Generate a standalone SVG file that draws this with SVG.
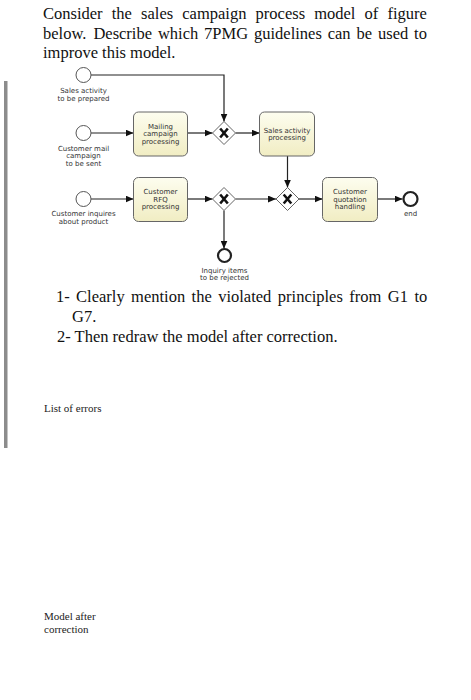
<svg xmlns="http://www.w3.org/2000/svg" width="471" height="700" viewBox="0 0 471 700">
<defs>
<linearGradient id="taskFill" x1="0" y1="0" x2="0" y2="1">
<stop offset="0" stop-color="#fdfdef"/>
<stop offset="1" stop-color="#f1edc3"/>
</linearGradient>
<marker id="arr" markerUnits="userSpaceOnUse" markerWidth="8" markerHeight="7" refX="8" refY="3.5" orient="auto">
<path d="M0,0 L8,3.5 L0,7 Z" fill="#111"/>
</marker>
<g id="xmark"><path d="M-3.8,-4.5 L3.8,4.5 M3.8,-4.5 L-3.8,4.5" stroke="#111" stroke-width="2.6" fill="none"/></g>
</defs>
<style>
.doc{font-family:"Liberation Serif","Times New Roman",serif;font-size:16.5px;fill:#111}
.small{font-family:"Liberation Serif","Times New Roman",serif;font-size:11px;fill:#222}
.lbl{font-family:"DejaVu Sans",Verdana,sans-serif;font-size:7px;fill:#333;text-anchor:middle}
.task rect{fill:url(#taskFill);stroke:#666;stroke-width:1}
.start circle{fill:#fff;stroke:#555;stroke-width:1}
.end circle{fill:#fff;stroke:#222;stroke-width:2.2}
.gw path.d{fill:#fff;stroke:#666;stroke-width:1}
.flow path{fill:none;stroke:#222;stroke-width:1.2;marker-end:url(#arr)}
</style>
<rect width="471" height="700" fill="#fff"/>
<rect x="4" y="81" width="3.5" height="367" fill="#8c8c8c"/>

<text class="doc" y="19"><tspan x="43">Consider</tspan><tspan x="111.7">the</tspan><tspan x="141.1">sales</tspan><tspan x="182.3">campaign</tspan><tspan x="255.6">process</tspan><tspan x="314.2">model</tspan><tspan x="364.6">of</tspan><tspan x="387.5">figure</tspan></text>
<text class="doc" y="38.5"><tspan x="43">below.</tspan><tspan x="93.4">Describe</tspan><tspan x="157.9">which</tspan><tspan x="204.1">7PMG</tspan><tspan x="254">guidelines</tspan><tspan x="327.7">can</tspan><tspan x="356.5">be</tspan><tspan x="378">used</tspan><tspan x="414.1">to</tspan></text>
<text class="doc" x="43" y="58">improve this model.</text>

<g id="connectors" class="flow">
<path d="M91,75 H224 V121.5"/>
<path d="M91,133 H133.5"/>
<path d="M187.5,133 H212.5"/>
<path d="M235.5,133 H259.5"/>
<path d="M287.5,156 V187.5"/>
<path d="M91,199 H133.5"/>
<path d="M187.5,199 H212.5"/>
<path d="M235.5,199 H276"/>
<path d="M299,199 H322.5"/>
<path d="M377.5,199 H402.5"/>
<path d="M224,210.5 V248.5"/>
</g>

<g id="start-sales" class="start"><circle cx="83.5" cy="75" r="7.5"/><text class="lbl" x="83.5" y="93">Sales activity</text><text class="lbl" x="83.5" y="100.5">to be prepared</text></g>
<g id="start-mail" class="start"><circle cx="83.5" cy="133" r="7.5"/><text class="lbl" x="83.5" y="150.5">Customer mail</text><text class="lbl" x="83.5" y="158">campaign</text><text class="lbl" x="83.5" y="165.5">to be sent</text></g>
<g id="start-inquiry" class="start"><circle cx="83.5" cy="199" r="7.5"/><text class="lbl" x="83.5" y="215.5">Customer inquires</text><text class="lbl" x="83.5" y="223.5">about product</text></g>

<g id="task-mailing" class="task"><rect x="133.5" y="112" width="54" height="44" rx="5"/><text class="lbl" x="160.5" y="128.5">Mailing</text><text class="lbl" x="160.5" y="136">campaign</text><text class="lbl" x="160.5" y="143.5">processing</text></g>
<g id="task-sales" class="task"><rect x="259.5" y="112" width="55" height="44" rx="5"/><text class="lbl" x="287" y="132.5">Sales activity</text><text class="lbl" x="287" y="140">processing</text></g>
<g id="task-rfq" class="task"><rect x="133.5" y="177.5" width="54" height="44" rx="5"/><text class="lbl" x="160.5" y="194">Customer</text><text class="lbl" x="160.5" y="201.5">RFQ</text><text class="lbl" x="160.5" y="208.5">processing</text></g>
<g id="task-quotation" class="task"><rect x="322.5" y="177.5" width="55" height="44" rx="5"/><text class="lbl" x="350" y="194">Customer</text><text class="lbl" x="350" y="201.5">quotation</text><text class="lbl" x="350" y="208.5">handling</text></g>

<g id="gw1" class="gw" transform="translate(224,133)"><path class="d" d="M0,-11.5 L11.5,0 L0,11.5 L-11.5,0 Z"/><use href="#xmark"/></g>
<g id="gw2" class="gw" transform="translate(224,199)"><path class="d" d="M0,-11.5 L11.5,0 L0,11.5 L-11.5,0 Z"/><use href="#xmark"/></g>
<g id="gw3" class="gw" transform="translate(287.5,199)"><path class="d" d="M0,-11.5 L11.5,0 L0,11.5 L-11.5,0 Z"/><use href="#xmark"/></g>

<g id="end-rejected" class="end"><circle cx="224.5" cy="255.5" r="6.5"/><text class="lbl" x="224.5" y="272.5">Inquiry items</text><text class="lbl" x="224.5" y="280">to be rejected</text></g>
<g id="end" class="end"><circle cx="410.5" cy="199" r="7"/><text class="lbl" x="410.5" y="215.5">end</text></g>

<text class="doc" y="302"><tspan x="56">1-</tspan><tspan x="76.1">Clearly</tspan><tspan x="131.1">mention</tspan><tspan x="191.6">the</tspan><tspan x="218.2">violated</tspan><tspan x="277.8">principles</tspan><tspan x="349.3">from</tspan><tspan x="387.8">G1</tspan><tspan x="414.4">to</tspan></text>
<text class="doc" x="72" y="322">G7.</text>
<text class="doc" x="57" y="342">2- Then redraw the model after correction.</text>

<text class="small" x="44" y="412">List of errors</text>
<text class="small" x="44" y="620">Model after</text>
<text class="small" x="44" y="633">correction</text>
</svg>
